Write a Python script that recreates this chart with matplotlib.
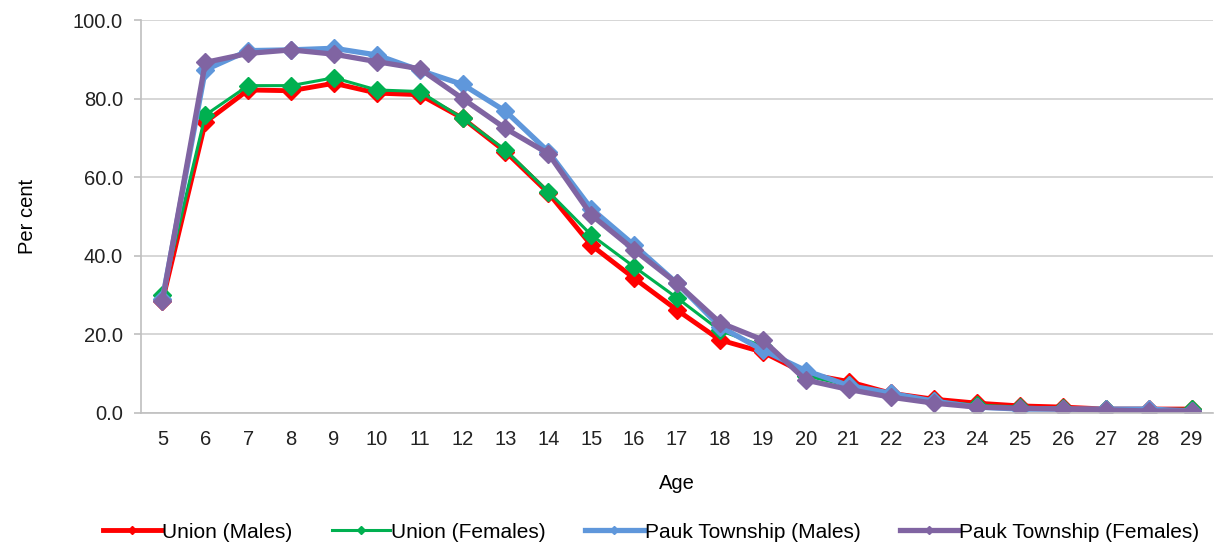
import matplotlib.pyplot as plt
import numpy as np

plt.rcParams['font.family'] = ['Liberation Sans', 'DejaVu Sans']

ages = list(range(5, 30))
union_males = [28.5, 74.0, 82.2, 82.0, 83.9, 81.4, 81.0, 75.0, 66.5, 56.0, 42.7, 34.3, 26.2,
               18.6, 15.5, 10.0, 8.0, 5.0, 3.5, 2.5, 1.8, 1.5, 1.0, 1.0, 1.0]
union_females = [30.0, 75.8, 83.3, 83.3, 85.3, 82.2, 81.8, 75.0, 66.9, 56.3, 45.3, 37.2, 29.3,
                 21.0, 17.0, 9.5, 7.0, 4.5, 3.0, 2.0, 1.5, 1.2, 1.0, 0.8, 1.0]
pauk_males = [29.0, 87.3, 92.2, 92.4, 92.8, 91.1, 87.2, 83.6, 76.8, 66.5, 52.0, 42.7, 33.0,
              22.0, 16.0, 10.8, 7.0, 5.0, 3.0, 1.5, 1.0, 1.0, 1.0, 1.0, 0.5]
pauk_females = [28.5, 89.2, 91.5, 92.4, 91.3, 89.4, 87.6, 80.0, 72.4, 66.0, 50.4, 41.5, 33.0,
                23.0, 18.6, 8.4, 6.0, 4.0, 2.5, 1.5, 1.2, 1.0, 0.8, 0.5, 0.5]

series = [
    ("Union (Males)", union_males, "#FF0000", 3.5),
    ("Union (Females)", union_females, "#00B050", 2.2),
    ("Pauk Township (Males)", pauk_males, "#5F97DB", 3.8),
    ("Pauk Township (Females)", pauk_females, "#8064A2", 3.8),
]

fs = 14.5
fig = plt.figure(figsize=(12.22, 5.49), dpi=100)
ax = fig.add_axes([141/1222, 1 - 413/549, (1213-141)/1222, (413-20)/549])

for name, vals, color, lw in series:
    ax.plot(ages, vals, color=color, lw=lw, marker='D', markersize=9,
            markeredgecolor=color, markerfacecolor=color, label=name)

ax.set_xlim(4.5, 29.5)
ax.set_ylim(0, 100)
ax.set_yticks(np.arange(0, 101, 20))
ax.set_yticklabels(["%.1f" % v for v in np.arange(0, 101, 20)], fontsize=fs, color='#222222')
ax.set_xticks(ages)
ax.set_xticklabels([str(a) for a in ages], fontsize=fs, color='#222222')
ax.tick_params(axis='x', length=0, pad=12)
ax.tick_params(axis='y', length=5, width=1.2, color='#BFBFBF', pad=8)

ax.grid(axis='y', color='#D0D0D0', lw=1.2)
ax.set_axisbelow(True)
for s in ['top', 'right']:
    ax.spines[s].set_visible(False)
for s in ['left', 'bottom']:
    ax.spines[s].set_color('#BFBFBF')
    ax.spines[s].set_linewidth(1.2)

ax.set_xlabel("Age", fontsize=fs, labelpad=18)
ax.set_ylabel("Per cent", fontsize=fs, labelpad=26)

leg = fig.legend(loc='center', bbox_to_anchor=(651/1222, 1 - 532/549), ncol=4, frameon=False,
                 fontsize=15, handlelength=2.8, handletextpad=0.05, columnspacing=1.9,
                 markerscale=0.5)

fig.savefig("out.png", dpi=100)
